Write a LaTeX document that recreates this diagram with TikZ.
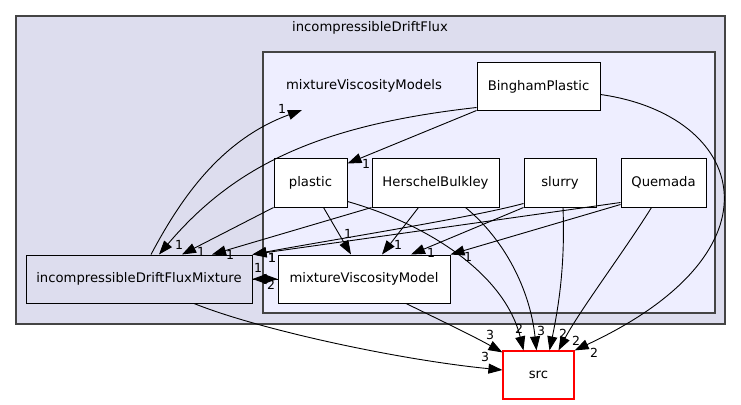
\documentclass[tikz,border=0pt]{standalone}
\usepackage{fontspec}
\setmainfont{DejaVu Sans}
\usetikzlibrary{arrows.meta,positioning}

\definecolor{clusterouter}{HTML}{DDDDEE}
\definecolor{clusterinner}{HTML}{EEEEFF}
\definecolor{clusterline}{HTML}{444444}

\begin{document}
\begin{tikzpicture}[
        x=1pt, y=-1pt,
        every node/.style={font=\fontsize{13.2}{15}\selectfont},
        dirbox/.style={
            draw,
            line width=1pt,
            fill=white,
            minimum height=48pt,
            inner sep=2pt
        },
        cluster/.style={
            draw=clusterline,
            line width=1.4pt,
            inner sep=0pt
        },
        dep/.style={-{Triangle[length=14pt,width=10pt]}, line width=0.9pt},
        num/.style={font=\fontsize{12.5}{12.5}\selectfont, inner sep=0pt}
    ]
    \useasboundingbox (0,0) rectangle (741,404);

    % clusters
    \node[cluster, fill=clusterouter, minimum width=709pt, minimum height=308pt] (driftflux) at (370.5,170) {};
    \node (driftfluxlabel) at (370,28) {incompressibleDriftFlux};
    \node[cluster, fill=clusterinner, minimum width=452pt, minimum height=261pt] (models) at (489,182.5) {};
    \node (modelslabel) at (364,86) {mixtureViscosityModels};
    \coordinate (modelsin) at (302,110);

    % directories
    \node[dirbox, minimum width=123pt, minimum height=47pt] (bingham) at (538.5,86.5) {BinghamPlastic};
    \node[dirbox, minimum width=73pt, minimum height=49pt] (plastic) at (310.5,182.5) {plastic};
    \node[dirbox, minimum width=127pt, minimum height=49pt, right=24pt of plastic] (herschel) {HerschelBulkley};
    \node[dirbox, minimum width=72pt, minimum height=49pt, right=24pt of herschel] (slurry) {slurry};
    \node[dirbox, minimum width=85pt, minimum height=49pt, right=24pt of slurry] (quemada) {Quemada};
    \node[dirbox, minimum width=172pt] (mixmodel) at (364,279) {mixtureViscosityModel};
    \node[dirbox, fill=clusterouter, minimum width=226pt, left=25pt of mixmodel] (mixture) {incompressibleDriftFluxMixture};
    \node[dirbox, draw=red, line width=1.2pt, minimum width=71pt] (src) at (538.5,375) {src};

    % dependencies
    \draw[dep] ([xshift=12pt]mixture.north) .. controls (180,200) and (220,140) .. (modelsin)
        node[num] at (282,109) {1};
    \draw[dep] ([yshift=3pt]bingham.south west) .. controls (320,125) and (235,165) .. ([xshift=20pt]mixture.north)
        node[num] at (179,245) {1};
    \draw[dep] (bingham.south west) -- ([yshift=-6pt]plastic.north east)
        node[num] at (366,164) {1};
    \draw[dep] ([yshift=-8pt]bingham.east) .. controls (745,115) and (790,250) .. (src.north east)
        node[num] at (594,353) {2};

    \draw[dep] (plastic.south west) -- ([xshift=43pt]mixture.north)
        node[num] at (201,252) {1};
    \draw[dep] ([xshift=13pt]plastic.south) -- ([xshift=-13pt]mixmodel.north)
        node[num] at (348,234) {1};
    \draw[dep] ([yshift=6pt]plastic.south east) .. controls (430,225) and (505,275) .. ([xshift=-15pt]src.north)
        node[num] at (519,329) {2};

    \draw[dep] (herschel.south west) -- ([xshift=73pt]mixture.north)
        node[num] at (230,255) {1};
    \draw[dep] ([xshift=-17pt]herschel.south) -- ([xshift=18pt]mixmodel.north)
        node[num] at (398,245) {1};
    \draw[dep] ([xshift=30pt]herschel.south) .. controls (505,240) and (530,290) .. ([xshift=-2pt]src.north)
        node[num] at (541,331) {3};

    \draw[dep] ([yshift=4pt]slurry.south west) .. controls (470,218) and (330,240) .. (mixture.north east)
        node[num] at (272,258) {1};
    \draw[dep] (slurry.south west) -- ([xshift=47pt]mixmodel.north)
        node[num] at (431,253) {1};
    \draw[dep] ([xshift=3pt]slurry.south) .. controls (565,260) and (560,300) .. ([xshift=11pt]src.north)
        node[num] at (563,334) {2};

    \draw[dep] ([yshift=5pt]quemada.south west) -- (mixture.north east)
        node[num] at (272,258) {1};
    \draw[dep] ([yshift=3pt]quemada.south west) -- (mixmodel.north east)
        node[num] at (468,257) {1};
    \draw[dep] ([xshift=-12pt]quemada.south) .. controls (625,250) and (580,310) .. ([xshift=20pt]src.north)
        node[num] at (576,341) {2};

    \draw[dep] (mixmodel.west) -- (mixture.east)
        node[num] at (258,268) {1};
    \draw[dep] (mixture.east) -- (mixmodel.west)
        node[num] at (271,285) {2};
    \draw[dep] ([xshift=42pt]mixmodel.south) .. controls (440,320) and (475,337) .. ([yshift=-2pt]src.north west)
        node[num] at (490,335) {3};
    \draw[dep] ([xshift=55pt]mixture.south) .. controls (260,330) and (400,360) .. ([yshift=5pt]src.west)
        node[num] at (485,357) {3};
\end{tikzpicture}
\end{document}
